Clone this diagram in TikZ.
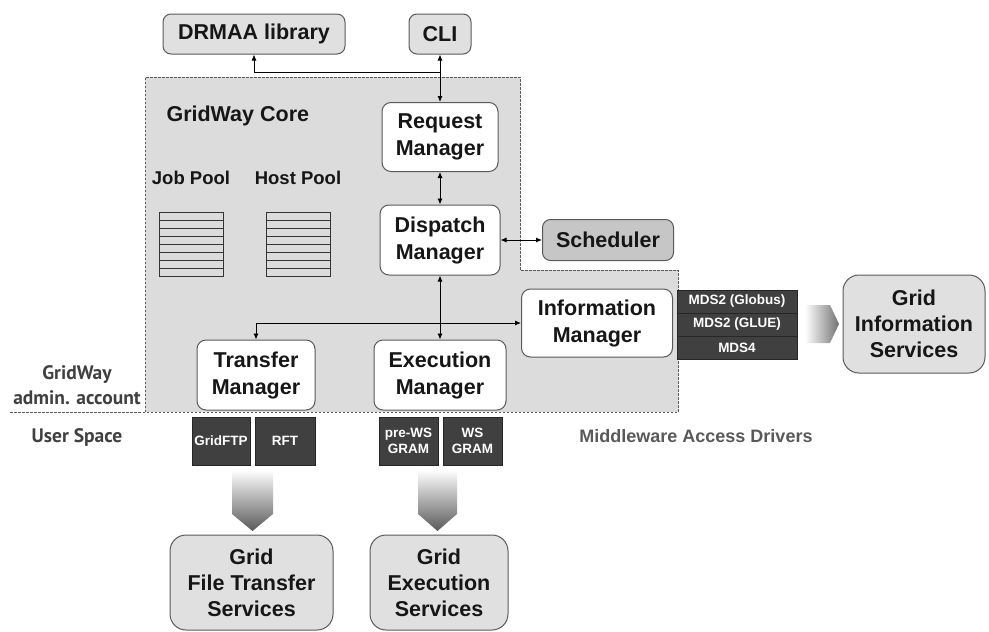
\documentclass[tikz,border=0pt]{standalone}
\usepackage{fontspec}
\setmainfont{Liberation Sans}
\newfontfamily\narrowfont{PT Sans}
\usetikzlibrary{arrows.meta}
\definecolor{coregray}{HTML}{DCDCDC}
\definecolor{extgray}{HTML}{E0E0E0}
\definecolor{schedgray}{HTML}{C6C6C6}
\definecolor{drvgray}{HTML}{404040}
\definecolor{linegray}{HTML}{5A5A5A}
\definecolor{txtgray}{HTML}{161616}
\tikzstyle{mgr}=[draw=linegray, fill=white, rounded corners=9pt, line width=1pt, align=center, inner sep=0pt, text=txtgray, font=\fontsize{21.5}{27}\selectfont\bfseries]
\tikzstyle{extbox}=[draw=linegray, fill=extgray, rounded corners=8pt, line width=1pt, align=center, inner sep=0pt, text=txtgray, font=\fontsize{21.5}{26}\selectfont\bfseries]
\tikzstyle{drvbox}=[draw=black!85, fill=drvgray, line width=0.8pt, align=center, inner sep=0pt, text=white, font=\fontsize{13.5}{16}\selectfont\bfseries]
\tikzstyle{lbl}=[text=txtgray, font=\fontsize{21.5}{24}\selectfont\bfseries]
\tikzstyle{conn}=[line width=0.9pt, {Latex[length=6pt,width=5pt]}-{Latex[length=6pt,width=5pt]}]
\tikzstyle{oneway}=[line width=0.9pt, -{Latex[length=6pt,width=5pt]}]
\tikzstyle{border}=[draw=linegray, line width=1pt, dash pattern=on 2.5pt off 1.5pt]

\begin{document}
\begin{tikzpicture}[x=1pt, y=-1pt]
  \useasboundingbox (0,0) rectangle (989,632);

  % core area
  \fill[coregray] (145,77) -- (520,77) -- (520,270) -- (678,270) -- (678,412) -- (145,412) -- cycle;
  \draw[border] (145,412) -- (145,77) -- (520,77) -- (520,270) -- (678,270) -- (678,412) -- (10,412);
  \node[lbl, anchor=west] (core) at (163,116) {GridWay Core};

  % pools
  \node[lbl, font=\fontsize{18.5}{20}\selectfont\bfseries] (jobpool) at (191,178) {Job Pool};
  \node[lbl, font=\fontsize{18.5}{20}\selectfont\bfseries] (hostpool) at (298,178) {Host Pool};
  \foreach \x in {159,266}{
    \draw[line width=0.8pt, black!80] (\x,212) rectangle (\x+64,276);
    \foreach \j in {1,...,7}
      \draw[line width=0.8pt, black!80] (\x,212+\j*8) -- (\x+64,212+\j*8);
  }

  % user front ends
  \node[extbox, minimum width=182pt, minimum height=40pt] (drmaa) at (254,34) {DRMAA library};
  \node[extbox, minimum width=62pt, minimum height=40pt] (cli) at (440,34) {CLI};

  % managers
  \node[mgr, minimum width=116pt, minimum height=69pt] (req) at (440,137) {Request\\Manager};
  \node[mgr, minimum width=120pt, minimum height=70pt] (disp) at (440,240) {Dispatch\\Manager};
  \node[extbox, fill=schedgray, minimum width=131pt, minimum height=41pt] (sched) at (608,240) {Scheduler};
  \node[mgr, minimum width=151pt, minimum height=68pt] (info) at (597,323) {Information\\Manager};
  \node[mgr, minimum width=118pt, minimum height=70pt] (transfer) at (256,375) {Transfer\\Manager};
  \node[mgr, minimum width=132pt, minimum height=70pt] (exec) at (440,375) {Execution\\Manager};

  % connectors
  \coordinate (split) at (440,72);
  \coordinate (fork) at (440,323);
  \draw[conn] (cli) -- (req);
  \draw[oneway] (split) -| (drmaa.south);
  \draw[conn] (req) -- (disp);
  \draw[conn] (disp) -- (sched);
  \draw[conn] (disp) -- (exec);
  \draw[oneway] (fork) -- (info.west);
  \draw[oneway] (fork) -| (transfer.north);

  % middleware access drivers
  \node[drvbox, minimum width=120pt, minimum height=23pt] (mdsglobus) at (737,301.5) {MDS2 (Globus)};
  \node[drvbox, minimum width=120pt, minimum height=23pt] (mdsglue) at (737,324.5) {MDS2 (GLUE)};
  \node[drvbox, minimum width=120pt, minimum height=23pt] (mdsfour) at (737,347.5) {MDS4};
  \node[drvbox, minimum width=58pt, minimum height=48pt] (gridftp) at (221,441) {GridFTP};
  \node[drvbox, minimum width=60pt, minimum height=48pt] (rft) at (285,441) {RFT};
  \node[drvbox, minimum width=59pt, minimum height=48pt] (prews) at (408.5,441) {pre-WS\\GRAM};
  \node[drvbox, minimum width=59pt, minimum height=48pt] (wsgram) at (472.5,441) {WS\\GRAM};
  \node[text=black!65, font=\fontsize{18}{20}\selectfont\bfseries] (drivers) at (696,436) {Middleware Access Drivers};

  % account labels
  \node[text=black!75, align=center, font=\narrowfont\fontsize{19.5}{25}\selectfont\bfseries] (admin) at (77,385) {GridWay\\admin. account};
  \node[text=black!75, font=\narrowfont\fontsize{19.5}{22}\selectfont\bfseries] (userspace) at (77,437) {User Space};

  % fat arrows
  \shade[top color=white, bottom color=black!65] (232,470) -- (273,470) -- (273,514) -- (252.5,531) -- (232,514) -- cycle;
  \shade[top color=white, bottom color=black!65] (418,470) -- (457,470) -- (457,514) -- (437.5,531) -- (418,514) -- cycle;
  \shade[left color=white, right color=black!55] (805,305) -- (830,305) -- (839,324) -- (830,343) -- (805,343) -- cycle;

  % grid services
  \node[extbox, rounded corners=16pt, minimum width=142pt, minimum height=98pt] (gis) at (914,324) {Grid\\Information\\Services};
  \node[extbox, rounded corners=16pt, minimum width=163pt, minimum height=95pt] (gfts) at (251.5,582.5) {Grid\\File Transfer\\Services};
  \node[extbox, rounded corners=16pt, minimum width=138pt, minimum height=95pt] (ges) at (439,582.5) {Grid\\Execution\\Services};
\end{tikzpicture}
\end{document}
